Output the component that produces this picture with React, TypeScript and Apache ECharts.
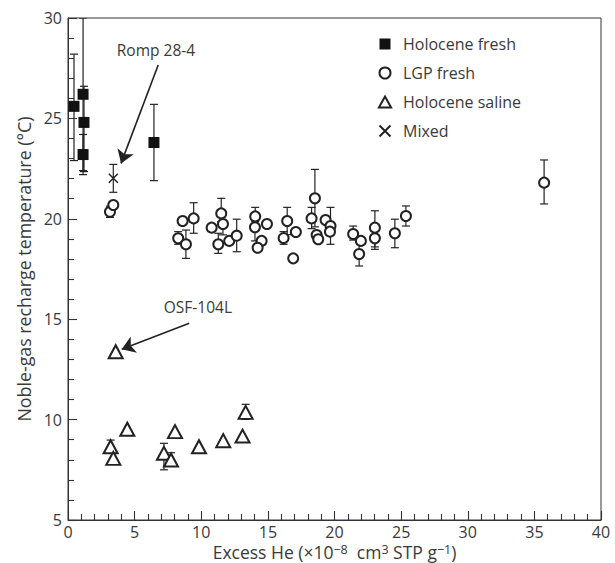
import React, { useEffect, useRef } from "react";
import * as echarts from "echarts";

// [x, y, low, high] (high/low null = no error bar)
const holoceneFresh: [number, number, number | null, number | null][] = [
  [0.45, 25.6, 22.9, 28.2],
  [1.13, 26.2, 22.4, 30],
  [1.2, 24.8, 22.35, 26.6],
  [1.13, 23.2, 22.2, 24.2],
  [6.45, 23.8, 21.9, 25.7],
];

const lgpFresh: [number, number, number | null, number | null][] = [
  [3.15, 20.35, 20.07, 20.63],
  [3.4, 20.69, null, null],
  [8.27, 19.03, 18.73, 19.36],
  [8.6, 19.89, null, null],
  [8.85, 18.73, 18.03, 19.44],
  [9.43, 20.02, 19.28, 20.8],
  [10.78, 19.56, null, null],
  [11.28, 18.73, 18.28, 19.28],
  [11.5, 20.27, 19.86, 21.02],
  [11.63, 19.74, 19.2, 20.2],
  [12.1, 18.9, null, null],
  [12.66, 19.16, 18.36, 19.98],
  [14.05, 20.12, 19.86, 20.57],
  [14.03, 19.58, 18.9, 20.1],
  [14.53, 18.9, null, null],
  [14.23, 18.56, null, null],
  [14.93, 19.74, null, null],
  [16.18, 19.04, 18.73, 19.36],
  [16.45, 19.89, 19.21, 20.57],
  [17.1, 19.34, null, null],
  [16.9, 18.03, null, null],
  [18.28, 20.02, 19.51, 20.57],
  [18.53, 21.02, 19.6, 22.46],
  [18.66, 19.19, null, null],
  [18.78, 18.98, null, null],
  [19.33, 19.94, null, null],
  [19.7, 19.64, 18.73, 20.57],
  [19.66, 19.36, null, null],
  [21.4, 19.24, 18.94, 19.64],
  [21.98, 18.9, null, null],
  [21.85, 18.25, 17.65, 18.85],
  [23.03, 19.56, 18.6, 20.4],
  [23.03, 19.03, 18.48, 19.5],
  [24.53, 19.28, 18.56, 19.98],
  [25.36, 20.14, 19.64, 20.64],
  [35.73, 21.8, 20.74, 22.93],
];

const holoceneSaline: [number, number, number | null, number | null][] = [
  [3.2, 8.65, 8.4, 8.98],
  [3.4, 8.07, null, null],
  [4.45, 9.52, null, null],
  [7.2, 8.32, 7.5, 8.82],
  [7.73, 7.99, 7.74, 8.35],
  [8.03, 9.4, null, null],
  [9.83, 8.65, null, null],
  [11.65, 8.95, null, null],
  [13.1, 9.18, null, null],
  [13.33, 10.36, 10.01, 10.76],
  [3.58, 13.38, null, null],
];

const mixed: [number, number, number | null, number | null][] = [
  [3.4, 22.02, 21.32, 22.71],
];

// annotations: label text, label position, arrow start, arrow end (data coords)
const annotationLabels = ["Romp 28-4", "OSF-104L"];
const annotationLabelPos: [number, number][] = [
  [6.6, 28.4],
  [9.75, 15.6],
];
const arrowStarts: [number, number][] = [
  [6.77, 27.66],
  [9.1, 14.8],
];
const arrowEnds: [number, number][] = [
  [3.98, 22.76],
  [4.03, 13.5],
];

const X_MIN = 0;
const X_MAX = 40;
const X_STEP = 5;
const Y_MIN = 5;
const Y_MAX = 30;
const Y_STEP = 5;
// tick values (major ones labelled)
const xMajorTicks = [0, 5, 10, 15, 20, 25, 30, 35, 40];
const xMinorTicks = [
  1, 2, 3, 4, 6, 7, 8, 9, 11, 12, 13, 14, 16, 17, 18, 19, 21, 22, 23, 24, 26, 27, 28, 29, 31, 32, 33, 34, 36,
  37, 38, 39,
];
const yMajorTicks = [5, 10, 15, 20, 25, 30];
const yMinorTicks = [6, 7, 8, 9, 11, 12, 13, 14, 16, 17, 18, 19, 21, 22, 23, 24, 26, 27, 28, 29];

const FONT = "Open Sans";
const INK = "#222";
const TEXT = "#3a3a3a";

const GRID_LEFT = 68;
const GRID_TOP = 18;
const GRID_W = 533;
const GRID_H = 502;
const MAJOR_PX = 9;
const MINOR_PX = 6;
const X_PER_PX = (X_MAX - X_MIN) / GRID_W;
const Y_PER_PX = (Y_MAX - Y_MIN) / GRID_H;

const SQUARE = "path://M0,0L10,0L10,10L0,10Z";
const TRIANGLE = "path://M5,0L10,9L0,9Z";
const CROSS = "path://M0,0L10,10M10,0L0,10";

function errorData(rows: [number, number, number | null, number | null][]) {
  return rows.filter((r) => r[2] !== null && r[3] !== null).map((r) => [r[0], r[2], r[3]]);
}

function errorSeries(name: string, rows: [number, number, number | null, number | null][]) {
  return {
    name,
    type: "custom",
    z: 1,
    clip: true,
    encode: { x: 0, y: [1, 2] },
    data: errorData(rows),
    renderItem: (_params: any, api: any) => {
      const x = api.value(0);
      const lo = api.value(1);
      const hi = api.value(2);
      const p1 = api.coord([x, lo]);
      const p2 = api.coord([x, hi]);
      const w = 4;
      const style = { stroke: INK, lineWidth: 1.2 };
      return {
        type: "group",
        children: [
          { type: "line", shape: { x1: p1[0], y1: p1[1], x2: p2[0], y2: p2[1] }, style },
          { type: "line", shape: { x1: p1[0] - w, y1: p1[1], x2: p1[0] + w, y2: p1[1] }, style },
          { type: "line", shape: { x1: p2[0] - w, y1: p2[1], x2: p2[0] + w, y2: p2[1] }, style },
        ],
      };
    },
  };
}

// inward tick marks as markLine segments in data coordinates
const tickSegments = [
  ...xMajorTicks.map((v) => [{ coord: [v, Y_MIN] }, { coord: [v, Y_MIN + MAJOR_PX * Y_PER_PX] }]),
  ...xMinorTicks.map((v) => [{ coord: [v, Y_MIN] }, { coord: [v, Y_MIN + MINOR_PX * Y_PER_PX] }]),
  ...yMajorTicks.map((v) => [{ coord: [X_MIN, v] }, { coord: [X_MIN + MAJOR_PX * X_PER_PX, v] }]),
  ...yMinorTicks.map((v) => [{ coord: [X_MIN, v] }, { coord: [X_MIN + MINOR_PX * X_PER_PX, v] }]),
];

export default function App() {
  const ref = useRef<HTMLDivElement>(null);
  useEffect(() => {
    document.body.style.margin = "0";
    if (!ref.current) return;
    const chart = echarts.init(ref.current, null, { renderer: "svg" });
    const option: any = {
      animation: false,
      backgroundColor: "#fff",
      textStyle: { fontFamily: FONT },
      grid: {
        left: GRID_LEFT,
        top: GRID_TOP,
        width: GRID_W,
        height: GRID_H,
        show: true,
        borderColor: "#333",
        borderWidth: 1,
        backgroundColor: "transparent",
        containLabel: false,
        outerBoundsMode: "none",
      },
      legend: {
        orient: "vertical",
        left: 372,
        top: 31,
        itemWidth: 26,
        itemHeight: 11,
        itemGap: 13,
        textStyle: { fontSize: 16, color: TEXT, fontFamily: FONT },
        data: [
          { name: "Holocene fresh", icon: SQUARE, itemStyle: { color: "#111", borderWidth: 0 } },
          { name: "LGP fresh", icon: "circle" },
          { name: "Holocene saline", icon: TRIANGLE },
          { name: "Mixed", icon: CROSS },
        ],
      },
      xAxis: {
        type: "value",
        min: X_MIN,
        max: X_MAX,
        interval: X_STEP,
        name: "{t|Excess He (×10}{s|−8}{t|  cm}{s|3}{t| STP g}{s|−1}{t|)}",
        nameLocation: "middle",
        nameGap: 23,
        nameMoveOverlap: false,
        nameTextStyle: {
          fontSize: 17.5,
          color: TEXT,
          fontFamily: FONT,
          lineHeight: 18,
          rich: {
            t: { fontSize: 17.5, color: TEXT, fontFamily: FONT, lineHeight: 18, verticalAlign: "bottom" },
            s: { fontSize: 12.5, color: TEXT, fontFamily: FONT, lineHeight: 18, verticalAlign: "top" },
          },
        },
        axisLine: { show: true, onZero: false, lineStyle: { color: "#333", width: 1 } },
        axisTick: { show: false },
        minorTick: { show: false },
        axisLabel: { fontSize: 16, lineHeight: 16, color: TEXT, margin: 4, fontFamily: FONT },
        splitLine: { show: false },
      },
      yAxis: {
        type: "value",
        min: Y_MIN,
        max: Y_MAX,
        interval: Y_STEP,
        name: "Noble-gas recharge temperature (°C)",
        nameLocation: "middle",
        nameGap: 35,
        nameMoveOverlap: false,
        nameRotate: 90,
        nameTextStyle: { fontSize: 17.8, color: TEXT, fontFamily: FONT },
        axisLine: { show: true, onZero: false, lineStyle: { color: "#333", width: 1 } },
        axisTick: { show: false },
        minorTick: { show: false },
        axisLabel: { fontSize: 16, color: TEXT, margin: 6, fontFamily: FONT },
        splitLine: { show: false },
      },
      series: [
        {
          name: "ticks",
          type: "scatter",
          z: 6,
          data: [],
          itemStyle: { color: "#333" },
          markLine: {
            silent: true,
            symbol: ["none", "none"],
            lineStyle: { color: "#333", width: 1.1, type: "solid" },
            label: { show: false },
            emphasis: { disabled: true },
            data: tickSegments,
          },
        },
        errorSeries("err-hf", holoceneFresh),
        errorSeries("err-lgp", lgpFresh),
        errorSeries("err-sal", holoceneSaline),
        errorSeries("err-mix", mixed),
        {
          name: "Holocene fresh",
          type: "scatter",
          z: 3,
          symbol: "rect",
          symbolSize: 11,
          itemStyle: { color: "#111", opacity: 1 },
          data: holoceneFresh.map((r) => [r[0], r[1]]),
        },
        {
          name: "LGP fresh",
          type: "scatter",
          z: 3,
          symbol: "circle",
          symbolSize: 10,
          itemStyle: { color: "#fff", borderColor: INK, borderWidth: 2, opacity: 1 },
          data: lgpFresh.map((r) => [r[0], r[1]]),
        },
        {
          name: "Holocene saline",
          type: "scatter",
          z: 3,
          symbol: "triangle",
          symbolSize: [14, 13],
          itemStyle: { color: "#fff", borderColor: INK, borderWidth: 2, opacity: 1 },
          data: holoceneSaline.map((r) => [r[0], r[1]]),
        },
        {
          name: "Mixed",
          type: "scatter",
          z: 3,
          symbol: CROSS,
          symbolSize: 9,
          itemStyle: { color: "none", borderColor: INK, borderWidth: 1.5, opacity: 1 },
          data: mixed.map((r) => [r[0], r[1]]),
        },
        {
          name: "annotations",
          type: "scatter",
          z: 4,
          data: [],
          itemStyle: { color: INK },
          markLine: {
            silent: true,
            symbol: ["none", "arrow"],
            symbolSize: 13,
            lineStyle: { color: INK, width: 1.6, type: "solid" },
            itemStyle: { color: INK },
            label: { show: false },
            data: arrowStarts.map((s, i) => [
              { coord: s, itemStyle: { color: INK } },
              { coord: arrowEnds[i], itemStyle: { color: INK } },
            ]),
          },
          markPoint: {
            silent: true,
            symbol: "circle",
            symbolSize: 0,
            label: {
              show: true,
              position: "inside",
              formatter: "{b}",
              fontSize: 15.5,
              color: TEXT,
              fontFamily: FONT,
            },
            data: annotationLabels.map((t, i) => ({ name: t, coord: annotationLabelPos[i] })),
          },
        },
      ],
    };
    chart.setOption(option);
    return () => chart.dispose();
  }, []);
  return <div ref={ref} style={{ width: 615, height: 563 }} />;
}
